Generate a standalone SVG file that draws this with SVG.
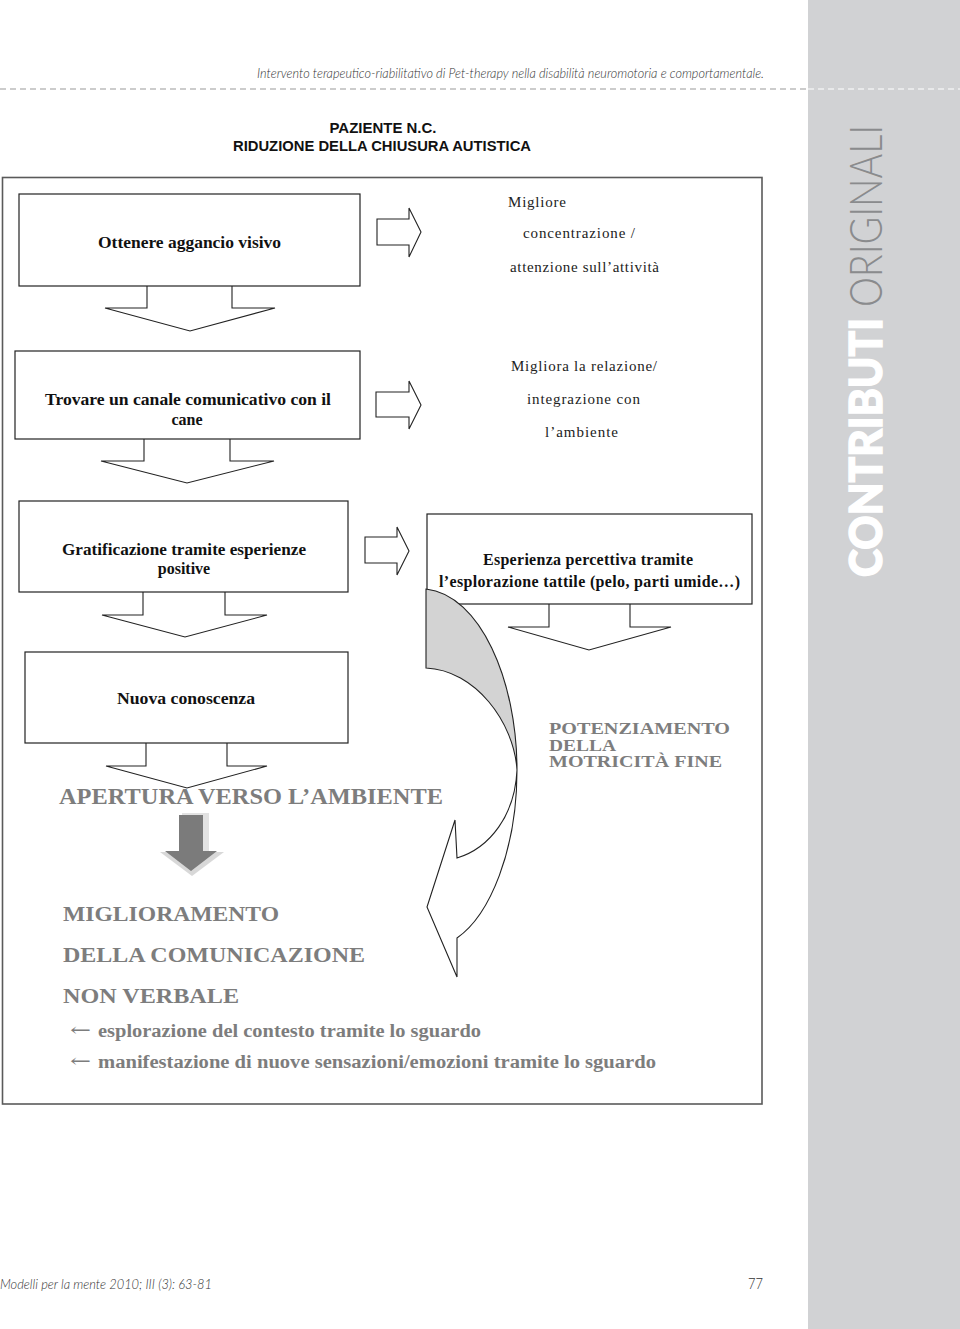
<svg xmlns="http://www.w3.org/2000/svg" width="960" height="1329" viewBox="0 0 960 1329">
<defs>
<style>
.box{fill:#fff;stroke:#222;stroke-width:1.2}
.blk{fill:#fff;stroke:#222;stroke-width:1.1;stroke-linejoin:miter}
.lbl{font-family:"Liberation Serif","Times New Roman",serif;font-weight:bold;font-size:16px;fill:#111}
.reg{font-family:"Liberation Serif","Times New Roman",serif;font-size:15px;fill:#222}
.gry{font-family:"Liberation Serif","Times New Roman",serif;font-weight:bold;fill:#7d7d7d}
.hdr{font-family:"Lato","Open Sans","DejaVu Sans",sans-serif;font-style:italic;font-weight:300;fill:#333}
.ttl{font-family:"Liberation Sans",Arial,sans-serif;font-weight:bold;font-size:14px;fill:#111}
</style>
</defs>
<rect width="960" height="1329" fill="#fff"/>
<!-- sidebar -->
<rect x="808" y="0" width="152" height="1329" fill="#d1d2d4"/>
<line x1="0" y1="89" x2="808" y2="89" stroke="#9a9a9a" stroke-width="1.2" stroke-dasharray="6,4"/>
<line x1="808" y1="89" x2="960" y2="89" stroke="#fff" stroke-width="1.2" stroke-dasharray="6,4"/>
<text class="hdr" x="257" y="78" font-size="13" textLength="507" lengthAdjust="spacingAndGlyphs">Intervento terapeutico-riabilitativo di Pet-therapy nella disabilità neuromotoria e comportamentale.</text>
<g transform="translate(882,577) rotate(-90)">
<text x="0" y="0" font-family="Lato,'Open Sans','DejaVu Sans',sans-serif" font-weight="900" font-size="46" fill="#fff" stroke="#fff" stroke-width="1.4" textLength="259" lengthAdjust="spacingAndGlyphs">CONTRIBUTI</text>
<text x="270" y="0" font-family="Lato,'Open Sans','DejaVu Sans',sans-serif" font-weight="300" font-size="46" fill="#8a8b8d" textLength="182" lengthAdjust="spacingAndGlyphs">ORIGINALI</text>
</g>
<!-- title -->
<text class="ttl" x="383" y="133" text-anchor="middle" textLength="107" lengthAdjust="spacingAndGlyphs">PAZIENTE N.C.</text>
<text class="ttl" x="382" y="151" text-anchor="middle" textLength="298" lengthAdjust="spacingAndGlyphs">RIDUZIONE DELLA CHIUSURA AUTISTICA</text>
<!-- frame -->
<rect x="2.5" y="177.5" width="759.5" height="926.5" fill="#fff" stroke="#5a5a5a" stroke-width="1.6"/>

<!-- connectors -->
<g id="connectors">
<path class="blk" d="M147,286 V308 H105 L190,331 L275,308 H232 V286"/>
<path class="blk" d="M144,439 V461 H101 L187,483 L274,461 H230 V439"/>
<path class="blk" d="M143,592 V615 H102 L185,637 L267,615 H225 V592"/>
<path class="blk" d="M549,604 V627 H508 L589,650 L671,627 H630 V604"/>
<path class="blk" d="M146,743 V766 H106 L187,788 L267,766 H227 V743"/>
<path class="blk" d="M377,219 H409 V208 L421,232 L409,257 V245 H377 Z"/>
<path class="blk" d="M376,392 H409 V381 L421,405 L409,429 V417 H376 Z"/>
<path class="blk" d="M365,537 H397 V527 L409,551 L397,575 V563 H365 Z"/>
</g>

<g id="node-ottenere">
<rect class="box" x="19" y="194" width="341" height="92"/>
<text class="lbl" x="98" y="248" textLength="183" lengthAdjust="spacingAndGlyphs">Ottenere aggancio visivo</text>
</g>
<g id="node-trovare">
<rect class="box" x="15" y="351" width="345" height="88"/>
<text class="lbl" x="45" y="405" textLength="286" lengthAdjust="spacingAndGlyphs">Trovare un canale comunicativo con il</text>
<text class="lbl" x="187" y="425" text-anchor="middle">cane</text>
</g>
<g id="node-gratificazione">
<rect class="box" x="19" y="501" width="329" height="91"/>
<text class="lbl" x="62" y="555" textLength="244" lengthAdjust="spacingAndGlyphs">Gratificazione tramite esperienze</text>
<text class="lbl" x="184" y="574" text-anchor="middle">positive</text>
</g>
<g id="node-esperienza">
<rect class="box" x="427" y="514" width="325" height="90"/>
<text class="lbl" x="483" y="565" font-size="15" textLength="210" lengthAdjust="spacing">Esperienza percettiva tramite</text>
<text class="lbl" x="439" y="587" font-size="15" textLength="301" lengthAdjust="spacing">l’esplorazione tattile (pelo, parti umide…)</text>
</g>
<g id="node-nuova">
<rect class="box" x="25" y="652" width="323" height="91"/>
<text class="lbl" x="117" y="704" textLength="138" lengthAdjust="spacingAndGlyphs">Nuova conoscenza</text>
</g>

<g id="node-migliore">
<text class="reg" x="508" y="207" textLength="58" lengthAdjust="spacing">Migliore</text>
<text class="reg" x="523" y="238" textLength="112" lengthAdjust="spacing">concentrazione /</text>
<text class="reg" x="510" y="272" textLength="149" lengthAdjust="spacing">attenzione sull’attività</text>
</g>
<g id="node-migliora">
<text class="reg" x="511" y="371" textLength="146" lengthAdjust="spacing">Migliora la relazione/</text>
<text class="reg" x="527" y="404" textLength="113" lengthAdjust="spacing">integrazione con</text>
<text class="reg" x="545" y="437" textLength="73" lengthAdjust="spacing">l’ambiente</text>
</g>

<!-- curved arrow -->
<g id="curved-arrow">
<path d="M426,589 C480,595 517,680 517,770 C514,722 475,670 426,668 Z" fill="#d3d3d3" stroke="#222" stroke-width="1.1"/>
<path d="M517,770 C517,850 490,915 457,938 L457,977 L427,907 L455,820 L457,858 C490,848 515,815 517,770 Z" fill="#fff" stroke="#222" stroke-width="1.1" stroke-linejoin="miter"/>
</g>

<g id="node-potenziamento">
<text class="gry" x="549" y="734" font-size="17" textLength="181" lengthAdjust="spacingAndGlyphs">POTENZIAMENTO</text>
<text class="gry" x="549" y="751" font-size="17" textLength="67" lengthAdjust="spacingAndGlyphs">DELLA</text>
<text class="gry" x="549" y="767" font-size="17" textLength="173" lengthAdjust="spacingAndGlyphs">MOTRICITÀ FINE</text>
</g>

<g id="node-apertura">
<text class="gry" x="59" y="804" font-size="22.5" textLength="384" lengthAdjust="spacingAndGlyphs">APERTURA VERSO L’AMBIENTE</text>
</g>

<g id="gray-arrow">
<polygon points="160,852 224,852 192,876" fill="#d8d8d8"/>
<rect x="182" y="813" width="27" height="40" fill="#e2e2e2"/>
<path d="M179,815 H203 V851 H217 L191,871 L165,851 H179 Z" fill="#7b7b7b"/>
</g>

<g id="node-miglioramento">
<text class="gry" x="63" y="921" font-size="22" textLength="216" lengthAdjust="spacingAndGlyphs">MIGLIORAMENTO</text>
<text class="gry" x="63" y="962" font-size="22" textLength="302" lengthAdjust="spacingAndGlyphs">DELLA COMUNICAZIONE</text>
<text class="gry" x="63" y="1003" font-size="22" textLength="176" lengthAdjust="spacingAndGlyphs">NON VERBALE</text>
<text x="70" y="1036" font-family="'DejaVu Serif','Liberation Serif',serif" font-size="18" fill="#7d7d7d" textLength="21" lengthAdjust="spacingAndGlyphs">←</text>
<text class="gry" x="98" y="1037" font-size="18.5" textLength="383" lengthAdjust="spacingAndGlyphs">esplorazione del contesto tramite lo sguardo</text>
<text x="70" y="1067" font-family="'DejaVu Serif','Liberation Serif',serif" font-size="18" fill="#7d7d7d" textLength="21" lengthAdjust="spacingAndGlyphs">←</text>
<text class="gry" x="98" y="1068" font-size="18.5" textLength="558" lengthAdjust="spacingAndGlyphs">manifestazione di nuove sensazioni/emozioni tramite lo sguardo</text>
</g>

<!-- footer -->
<text class="hdr" x="0" y="1289" font-size="14" textLength="212" lengthAdjust="spacingAndGlyphs">Modelli per la mente 2010; III (3): 63-81</text>
<text x="748" y="1289" font-family="Lato,'Open Sans',sans-serif" font-weight="300" font-size="15" fill="#333" textLength="15" lengthAdjust="spacingAndGlyphs">77</text>
</svg>
